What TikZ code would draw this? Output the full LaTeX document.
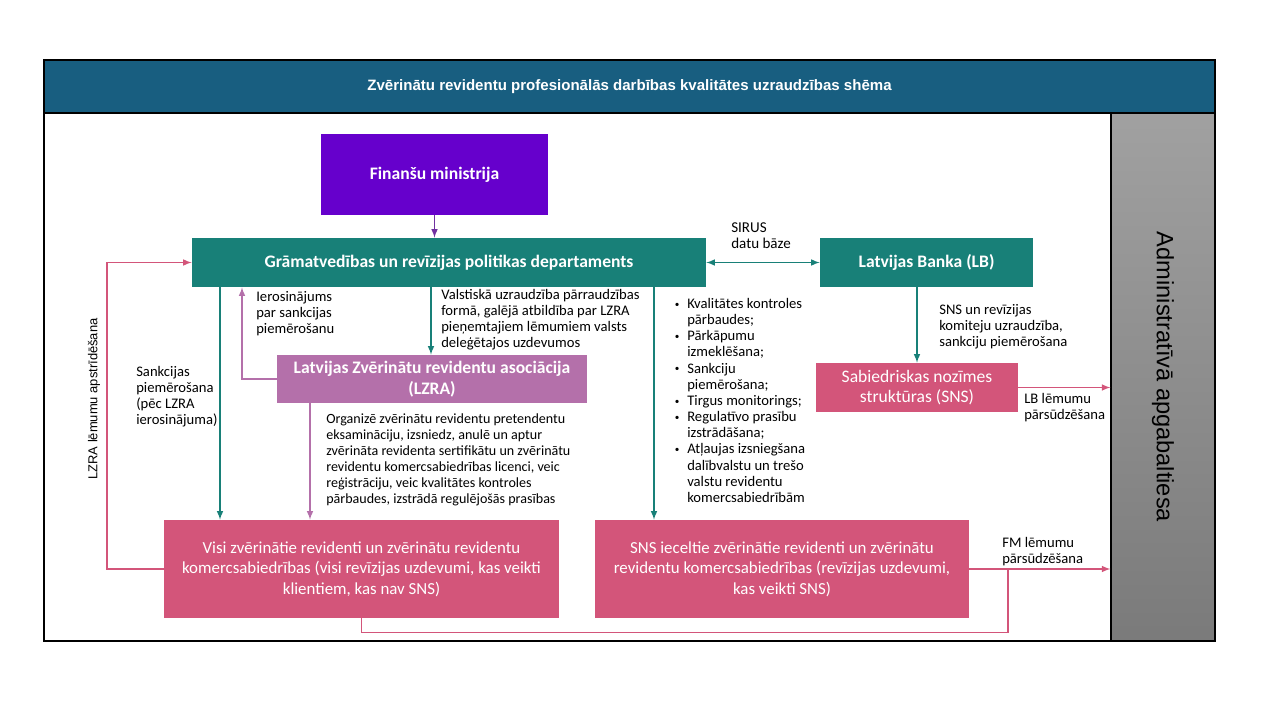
\documentclass[tikz,border=0pt]{standalone}
\usepackage{fontspec}
\setmainfont{Carlito}
\newfontfamily\arialfont{Liberation Sans}
\usetikzlibrary{arrows,positioning}
\newlength{\pxu}\setlength{\pxu}{0.025cm}
\newcommand{\blt}{\makebox[14\pxu][l]{\hspace*{1.5\pxu}\raisebox{0.9pt}{\fontsize{6.5}{6.5}\selectfont\textbullet}}}
\newcommand{\bltx}{\makebox[14\pxu][l]{}}
\definecolor{titleblue}{RGB}{24,94,128}
\definecolor{deptteal}{RGB}{24,128,120}
\definecolor{fmviolet}{RGB}{102,0,204}
\definecolor{lzrapurple}{RGB}{180,112,170}
\definecolor{snspink}{RGB}{211,85,122}
\definecolor{arrowviolet}{RGB}{112,48,160}
\begin{document}
\begin{tikzpicture}
		[x=0.025cm,y=-0.025cm,
		main node/.style={shape=rectangle,inner sep=0pt,text=white,align=center},
		bold node/.style={main node,font={\fontsize{12.5}{15}\selectfont\bfseries}},
		box node/.style={main node,fill=snspink,font={\fontsize{12}{14.5}\selectfont}},
		note node/.style={inner sep=0pt,anchor=north west,align=left,font={\fontsize{10.4}{11.5}\selectfont}},
		teal edge/.style={draw=deptteal,line width=1.1pt,-latex},
		lzra edge/.style={draw=lzrapurple,line width=1.1pt,-latex},
		pink edge/.style={draw=snspink,line width=1.1pt}
		]
		
		\useasboundingbox (0,0) rectangle (1280,720);
		
		% frame
		\node [main node,fill=titleblue,draw=black,line width=0.8pt,minimum width=1171\pxu,minimum height=53\pxu,
		font={\arialfont\fontsize{10.7}{13}\selectfont\bfseries}] (0) at (629.5,86.5)
		{Zvērinātu revidentu profesionālās darbības kvalitātes uzraudzības shēma};
		\draw [black,line width=0.8pt] (44,113) rectangle (1111,641);
		\node [shape=rectangle,inner sep=0pt,draw=black,line width=0.8pt,top color=black!37,bottom color=black!52,
		minimum width=104\pxu,minimum height=528\pxu] (8) at (1163,377) {};
		\node [rotate=-90,inner sep=0pt,font={\arialfont\fontsize{16.8}{20}\selectfont}] (8t) at (8.center) {Administratīvā apgabaltiesa};
		
		% boxes
		\node [bold node,fill=fmviolet,minimum width=227\pxu,minimum height=81\pxu] (1) at (434.5,174.5) {Finanšu ministrija};
		\node [bold node,fill=deptteal,minimum width=514\pxu,minimum height=49\pxu] (2) at (449,262.5) {Grāmatvedības un revīzijas politikas departaments};
		\node [bold node,fill=deptteal,minimum width=213\pxu,minimum height=49\pxu] (3) at (926.5,262.5) {Latvijas Banka (LB)};
		\node [bold node,fill=lzrapurple,minimum width=310\pxu,minimum height=48\pxu] (4) at (432,379) {Latvijas Zvērinātu revidentu asociācija\\(LZRA)};
		\node [box node,font={\fontsize{12.5}{14.5}\selectfont},minimum width=202\pxu,minimum height=49\pxu] (5) at (917,387.5) {Sabiedriskas nozīmes\\struktūras (SNS)};
		\node [box node,minimum width=395\pxu,minimum height=98\pxu] (6) at (361.5,569) {Visi zvērinātie revidenti un zvērinātu revidentu\\komercsabiedrības (visi revīzijas uzdevumi, kas veikti\\klientiem, kas nav SNS)};
		\node [box node,minimum width=374\pxu,minimum height=98\pxu] (7) at (782,569) {SNS ieceltie zvērinātie revidenti un zvērinātu\\revidentu komercsabiedrības (revīzijas uzdevumi,\\kas veikti SNS)};
		
		% texts
		\node [note node,font={\fontsize{10.7}{11.8}\selectfont}] (s) at (731,222) {SIRUS\\datu bāze};
		\node [note node] (a) at (256,291) {Ierosinājums\\par sankcijas\\piemērošanu};
		\node [note node] (b) at (441,289) {Valstiskā uzraudzība pārraudzības\\formā, galējā atbildība par LZRA\\pieņemtajiem lēmumiem valsts\\deleģētajos uzdevumos};
		\node [note node] (c) at (136,366) {Sankcijas\\piemērošana\\(pēc LZRA\\ierosinājuma)};
		\node [note node,font={\fontsize{10}{11.5}\selectfont}] (d) at (326,413) {Organizē zvērinātu revidentu pretendentu\\eksamināciju, izsniedz, anulē un aptur\\zvērināta revidenta sertifikātu un zvērinātu\\revidentu komercsabiedrības licenci, veic\\reģistrāciju, veic kvalitātes kontroles\\pārbaudes, izstrādā regulējošās prasības};
		\node [note node] (e) at (673,298) {\blt Kvalitātes kontroles\\\bltx pārbaudes;\\\blt Pārkāpumu\\\bltx izmeklēšana;\\\blt Sankciju\\\bltx piemērošana;\\\blt Tirgus monitorings;\\\blt Regulatīvo prasību\\\bltx izstrādāšana;\\\blt Atļaujas izsniegšana\\\bltx dalībvalstu un trešo\\\bltx valstu revidentu\\\bltx komercsabiedrībām};
		\node [note node] (f) at (939,304) {SNS un revīzijas\\komiteju uzraudzība,\\sankciju piemērošana};
		\node [note node] (g) at (1024,393) {LB lēmumu\\pārsūdzēšana};
		\node [note node] (h) at (1002,537) {FM lēmumu\\pārsūdzēšana};
		\node [rotate=90,inner sep=0pt,font={\arialfont\fontsize{9.2}{11}\selectfont}] (i) at (94,399) {LZRA lēmumu apstrīdēšana};
		
		% connectors
		\draw [draw=arrowviolet,line width=1.1pt,-latex] (1.south) -- (1.south |- 2.north);
		\draw [teal edge,latex-latex] (2.east) -- (3.west);
		\draw [teal edge] (2.south -| 431,0) -- (4.north -| 431,0);
		\draw [teal edge] (2.south -| 220,0) -- (6.north -| 220,0);
		\draw [teal edge] (2.south -| 654,0) -- (7.north -| 654,0);
		\draw [teal edge] (3.south -| 917,0) -- (5.north);
		\draw [lzra edge] (4.west) -| (2.south -| 242,0);
		\draw [lzra edge] (4.south -| 310,0) -- (6.north -| 310,0);
		\draw [pink edge,-latex] (6.west) -| (2.west -| 107,0) -- (2.west);
		\draw [pink edge,-latex] (5.east) -- (5.east -| 8.west);
		\draw [pink edge,-latex] (7.east) -- (7.east -| 8.west);
		\draw [pink edge] (6.south) -- ++(0,14) -| (7.east -| 1008,0);
		
\end{tikzpicture}
\end{document}
